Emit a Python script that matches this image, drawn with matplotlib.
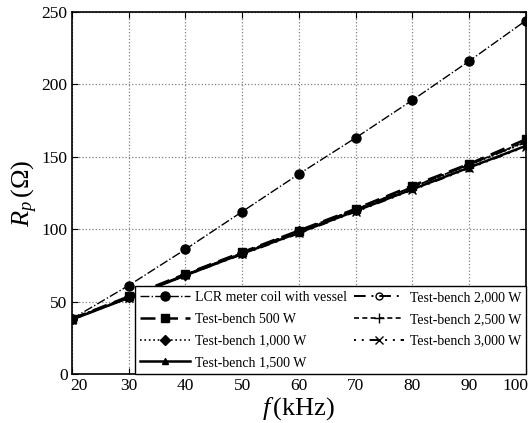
import matplotlib.pyplot as plt
import matplotlib.transforms as mtransforms
import numpy as np

plt.rcParams['font.family'] = ['Liberation Serif', 'DejaVu Serif']
plt.rcParams['mathtext.fontset'] = 'custom'
plt.rcParams['mathtext.it'] = 'Liberation Serif:italic'
plt.rcParams['mathtext.rm'] = 'Liberation Serif'

freq = [20, 30, 40, 50, 60, 70, 80, 90, 100]
lcr = [38, 61, 86, 112, 138, 163, 189, 216, 244]
tb_500 = [38, 53.5, 69, 84, 99, 114, 130, 145, 162]
tb_1000 = [38, 53, 68.5, 83.5, 98.5, 113, 129, 144, 160]
tb_1500 = [37.5, 52.5, 68, 83, 97.5, 112.5, 127.5, 142.5, 157.5]
tb_2000 = [38, 53, 68.5, 83.5, 98.5, 113.5, 129, 144.5, 160]
tb_2500 = [38, 53, 68.5, 83.5, 99, 113.5, 129, 144.5, 160.5]
tb_3000 = [37.5, 52.5, 68, 82.5, 97, 112, 127, 142, 157]

fig = plt.figure(figsize=(5.28, 4.23), dpi=100)
ax = fig.add_axes([0.136, 0.116, 0.86, 0.856])

ax.plot(freq, lcr, color='black', linestyle='-.', linewidth=1.0, marker='o',
        markersize=6.5, label='LCR meter coil with vessel')
ax.plot(freq, tb_500, color='black', linestyle=(0, (6, 3)), linewidth=1.8, marker='s',
        markersize=6, label='Test-bench 500 W')
ax.plot(freq, tb_1000, color='black', linestyle=':', linewidth=1.2, marker='D',
        markersize=5, label='Test-bench 1,000 W')
ax.plot(freq, tb_1500, color='black', linestyle='-', linewidth=1.8, marker='^',
        markersize=5, label='Test-bench 1,500 W')
ax.plot(freq, tb_2000, color='black', linestyle=(0, (6, 3, 1, 3)), linewidth=1.4, marker='o',
        markersize=5, fillstyle='none', label='Test-bench 2,000 W')
ax.plot(freq, tb_2500, color='black', linestyle=(0, (3, 2)), linewidth=1.2, marker='+',
        markersize=7, label='Test-bench 2,500 W')
ax.plot(freq, tb_3000, color='black', linestyle=(0, (1, 3, 1, 3, 5, 3)), linewidth=1.4, marker='x',
        markersize=6, label='Test-bench 3,000 W')

ax.set_xlim(20, 100)
ax.set_ylim(0, 250)
ax.set_xticks(np.arange(20, 101, 10))
ax.set_yticks(np.arange(0, 251, 50))
ax.tick_params(direction='in', labelsize=12.5, top=True, right=True, length=4, pad=3)
ax.grid(True, linestyle=':', color='gray', linewidth=0.9)
for s in ax.spines.values():
    s.set_linewidth(1.2)

# nudge the end labels inward so they stay inside the figure
xlabels = ax.get_xticklabels()
xlabels[0].set_transform(xlabels[0].get_transform() +
                         mtransforms.ScaledTranslation(0.07, 0, fig.dpi_scale_trans))
xlabels[-1].set_transform(xlabels[-1].get_transform() +
                          mtransforms.ScaledTranslation(-0.10, 0, fig.dpi_scale_trans))

ax.set_xlabel(r'$f\,$(kHz)', fontsize=19, labelpad=1)
ax.set_ylabel(r'$R_p\,(\Omega)$', fontsize=19, labelpad=1)

ax.legend(loc='lower right', ncol=2, fontsize=10, handlelength=3.6,
          frameon=True, fancybox=False, edgecolor='black', framealpha=1,
          borderaxespad=0, labelspacing=0.62, columnspacing=0.5,
          handletextpad=0.4, borderpad=0.35)

plt.savefig('out.png', dpi=100)
